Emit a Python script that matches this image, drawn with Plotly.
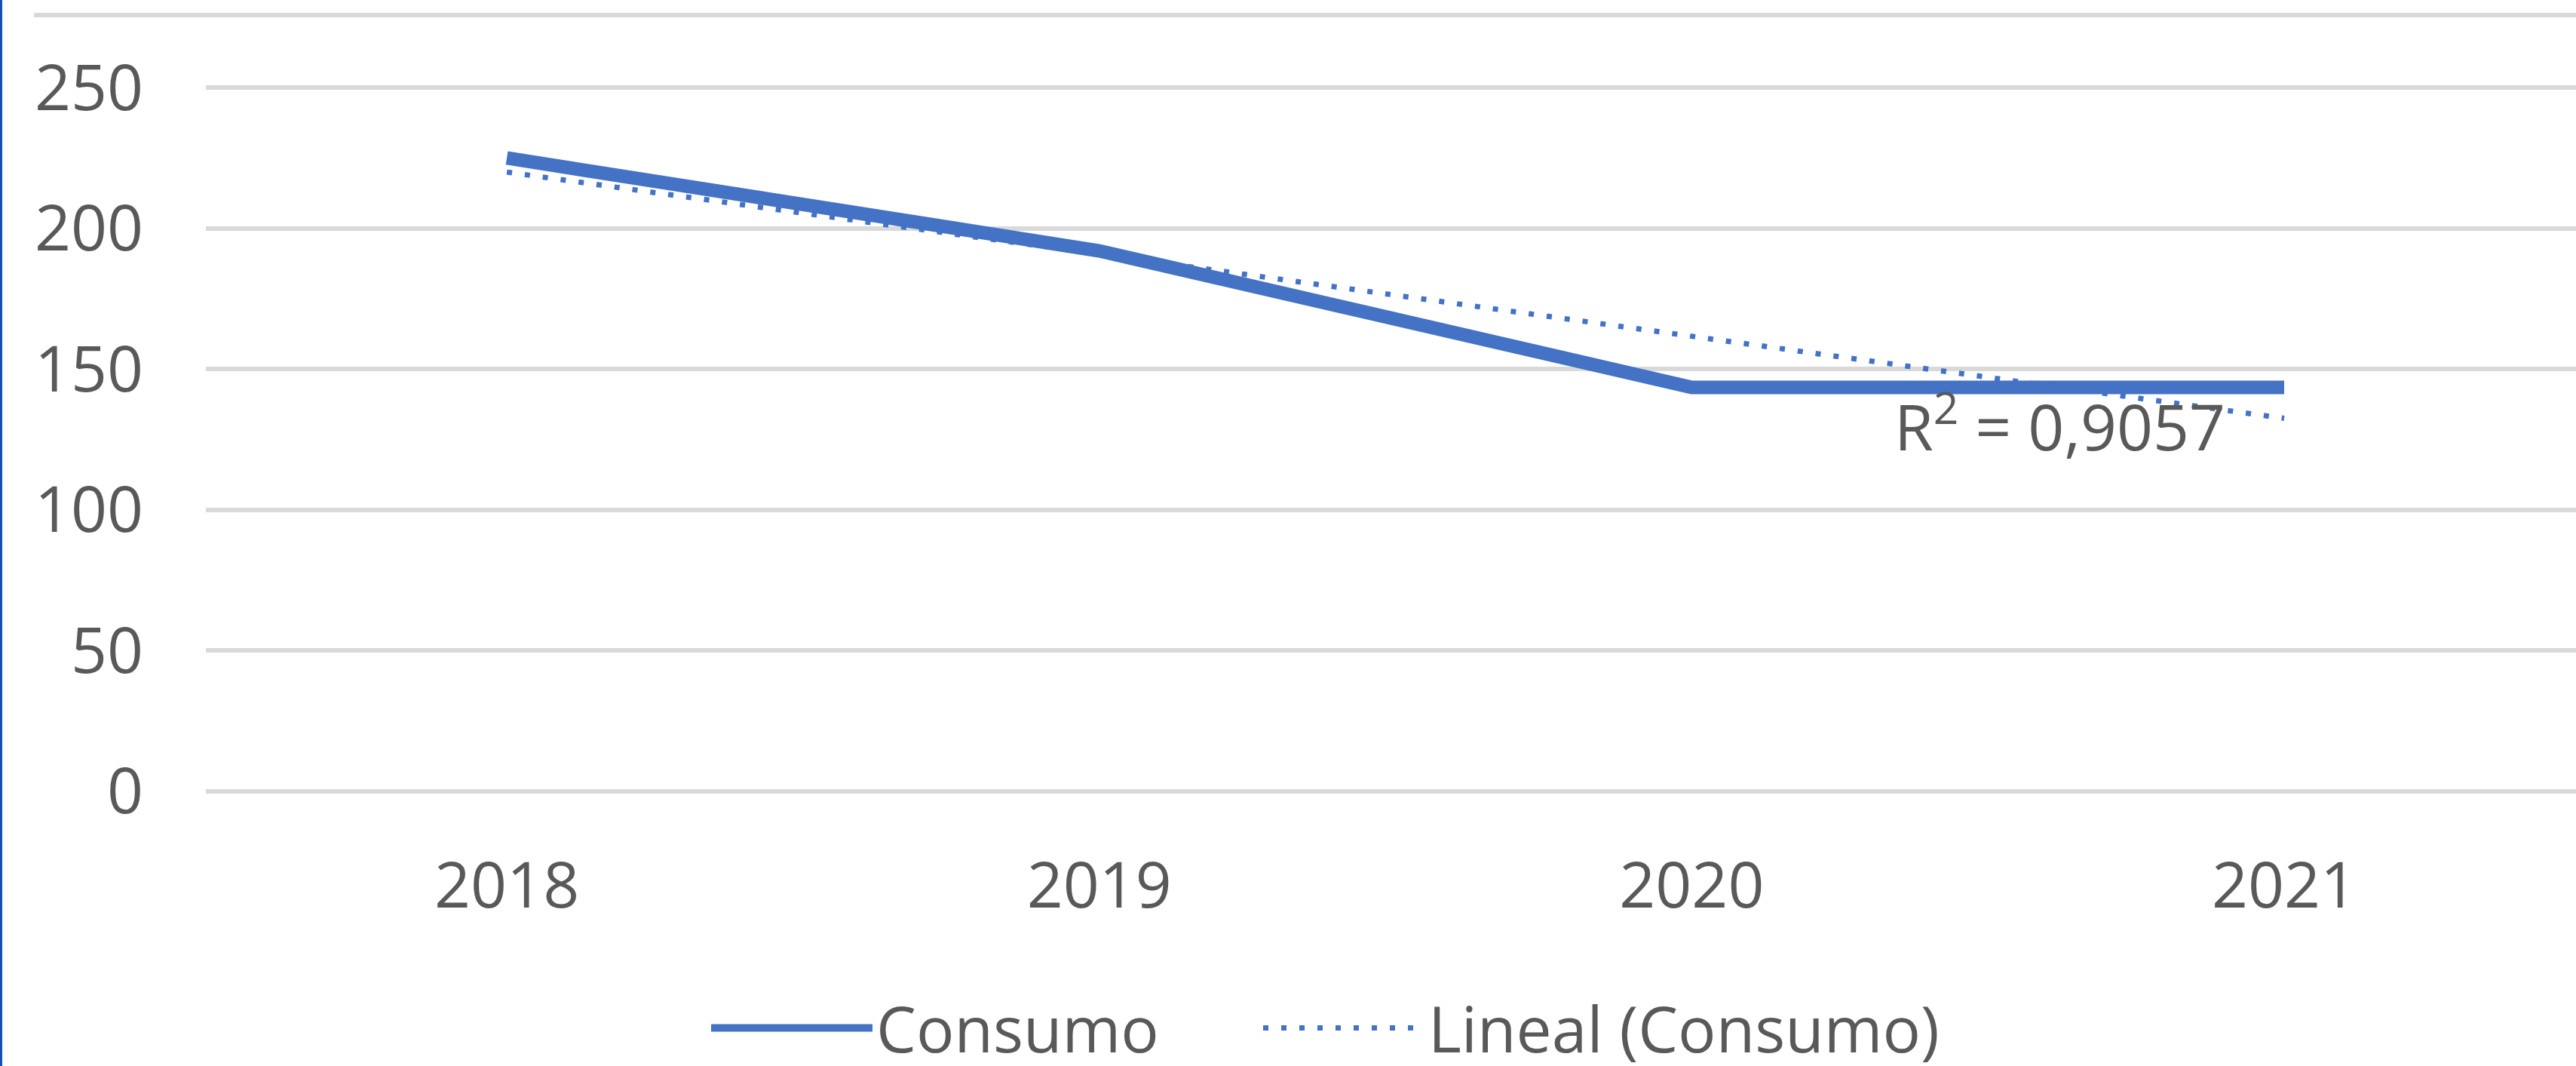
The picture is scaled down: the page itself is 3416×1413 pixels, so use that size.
import plotly.graph_objects as go

# ---- data ----
years = ["2018", "2019", "2020", "2021"]
consumo = [225, 192, 143.5, 143.5]
trend_years = ["2018", "2021"]
trend_values = [220, 132.5]
y_ticks = [0, 50, 100, 150, 200, 250]
r2_label = "R<sup>2</sup> = 0,9057"

# ---- layout constants (pixels) ----
W, H = 3416, 1413
ML, MR, MT, MB = 273, 0, 105, 353
PW, PH = W - ML - MR, H - MT - MB

def px_x(px):
    return (px - ML) / PW

def px_y(py):
    return (H - MB - py) / PH

BLUE = "#4472C4"
TXT = "#595959"
GRID = "#D9D9D9"
FONT = "Open Sans"
FS = 84

fig = go.Figure()
fig.add_trace(go.Scatter(
    x=years, y=consumo, mode="lines", name="Consumo",
    line=dict(color=BLUE, width=18), legend="legend",
))
fig.add_trace(go.Scatter(
    x=trend_years, y=trend_values, mode="lines", name="Lineal (Consumo)",
    line=dict(color=BLUE, width=7, dash="7px,17px"), legend="legend2",
))

legend_common = dict(
    orientation="h", xref="container", yref="container",
    xanchor="left", yanchor="middle", y=1 - 1363 / H,
    font=dict(family=FONT, size=FS, color=TXT),
    itemwidth=214, bgcolor="rgba(0,0,0,0)",
)

fig.update_layout(
    width=W, height=H,
    margin=dict(l=ML, r=MR, t=MT, b=MB, pad=0, autoexpand=False),
    paper_bgcolor="white", plot_bgcolor="white",
    font=dict(family=FONT, size=FS, color=TXT),
    showlegend=True,
    legend=dict(x=938 / W, **legend_common),
    legend2=dict(x=(938 + 732) / W, **legend_common),
    xaxis=dict(
        type="category", range=[-0.508, 3.4926],
        showgrid=False, zeroline=False, showline=False, ticks="",
        tickfont=dict(family=FONT, size=FS, color=TXT),
        ticklabelstandoff=58,
    ),
    yaxis=dict(
        range=[-3, 253], tickvals=y_ticks,
        showgrid=True, gridcolor=GRID, gridwidth=6,
        zeroline=False, showline=False, ticks="",
        tickfont=dict(family=FONT, size=FS, color=TXT),
        ticklabelstandoff=82,
    ),
    annotations=[dict(
        text=r2_label, xref="paper", yref="paper",
        x=px_x(2510), xanchor="left", y=px_y(560), yanchor="middle",
        showarrow=False, font=dict(family=FONT, size=FS, color=TXT),
    )],
    shapes=[
        dict(type="line", xref="paper", yref="paper",
             x0=px_x(45), x1=1.0, y0=px_y(20), y1=px_y(20),
             line=dict(color=GRID, width=6), layer="below"),
        dict(type="rect", xref="paper", yref="paper",
             x0=px_x(0), x1=px_x(3), y0=px_y(H), y1=px_y(0),
             fillcolor="#1550B4", line=dict(width=0)),
    ],
)

fig.write_html(
    "out.html",
    config={"displayModeBar": False},
    post_script="document.body.style.margin='0';document.body.style.overflow='hidden';",
)
